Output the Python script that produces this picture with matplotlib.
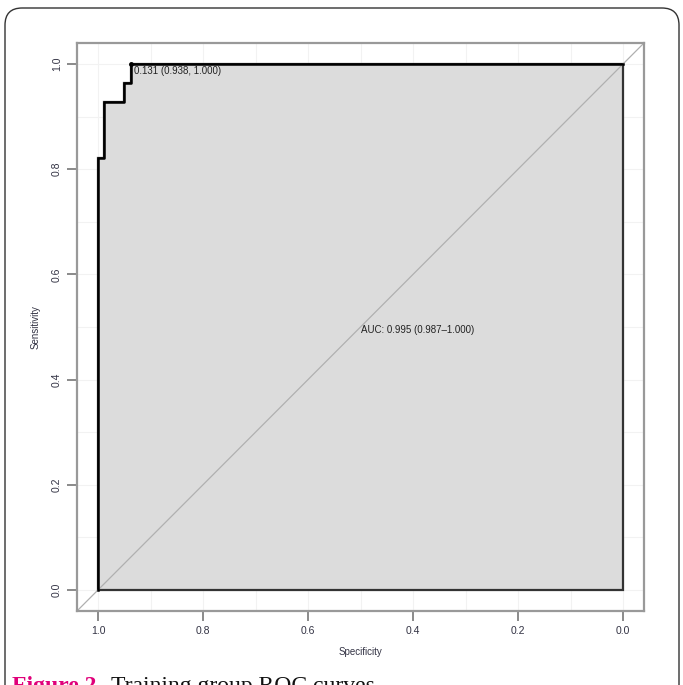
import matplotlib.pyplot as plt
from matplotlib.patches import FancyBboxPatch, Polygon

# ROC steps
specificity = [1.0, 1.0, 0.989, 0.989, 0.951, 0.951, 0.938, 0.938, 0.0]
sensitivity = [0.0, 0.821, 0.821, 0.928, 0.928, 0.964, 0.964, 1.0, 1.0]
best_spec, best_sens, best_thres = 0.938, 1.000, 0.131
auc_text = "AUC: 0.995 (0.987\u20131.000)"
ticks = [1.0, 0.8, 0.6, 0.4, 0.2, 0.0]

plt.rcParams['font.family'] = ['Liberation Sans', 'DejaVu Sans']

fig = plt.figure(figsize=(6.83, 6.85), dpi=100)
W, H = 683, 685

# rounded frame around the figure
frame = FancyBboxPatch((5 / W, -0.05), 674 / W, 1 - 8 / H + 0.05,
                       boxstyle="round,pad=0,rounding_size=0.025",
                       transform=fig.transFigure, fill=False,
                       edgecolor='#333333', linewidth=1.0)
fig.patches.append(frame)

ax = fig.add_axes([77 / W, (685 - 611) / H, (644 - 77) / W, (611 - 43) / H])

# faint grid
for g in [i / 10 for i in range(11)]:
    ax.axvline(g, color='#f2f2f2', lw=0.8, zorder=0)
    ax.axhline(g, color='#f2f2f2', lw=0.8, zorder=0)

# area under the curve
poly_pts = list(zip(specificity, sensitivity)) + [(0.0, 0.0)]
ax.add_patch(Polygon(poly_pts, closed=True, facecolor='#dcdcdc',
                     edgecolor='#333333', lw=1.6, zorder=1))

# chance diagonal
ax.axline((1, 0), (0, 1), color='#b0b0b0', lw=0.9, zorder=2)

# ROC curve
ax.plot(specificity, sensitivity, color='black', lw=1.8, zorder=3)
ax.plot([best_spec], [best_sens], 'o', color='black', ms=2.5, zorder=4)
ax.text(best_spec - 0.006, best_sens - 0.004,
        f"{best_thres:.3f} ({best_spec:.3f}, {best_sens:.3f})",
        ha='left', va='top', fontsize=7, color='#222222', zorder=5)
ax.text(0.5, 0.503, auc_text, ha='left', va='top', fontsize=7,
        color='#222222', zorder=5)

ax.set_xlim(1.04, -0.04)
ax.set_ylim(-0.04, 1.04)
ax.set_xticks(ticks)
ax.set_yticks(ticks)
ax.set_xticklabels([f"{t:.1f}" for t in ticks])
ax.set_yticklabels([f"{t:.1f}" for t in ticks], rotation=90, va='center')
ax.tick_params(length=7, width=1.2, color='#777777', labelsize=7.5,
               labelcolor='#333344', pad=4)
for s in ax.spines.values():
    s.set_color('#999999')
    s.set_linewidth(1.6)

ax.set_xlabel('Specificity', fontsize=7, color='#333344', labelpad=8)
ax.set_ylabel('Sensitivity', fontsize=7, color='#333344', labelpad=8)

# caption, cut off at the bottom edge
fig.text(12 / W, 1 - 676 / H, "Figure 2.", ha='left', va='top',
         fontsize=17, fontweight='bold', color='#e0007a',
         family='Liberation Serif')
fig.text(111 / W, 1 - 676 / H, "Training group ROC curves", ha='left',
         va='top', fontsize=17, color='#111111', family='Liberation Serif')

fig.savefig('out.png', dpi=100)
